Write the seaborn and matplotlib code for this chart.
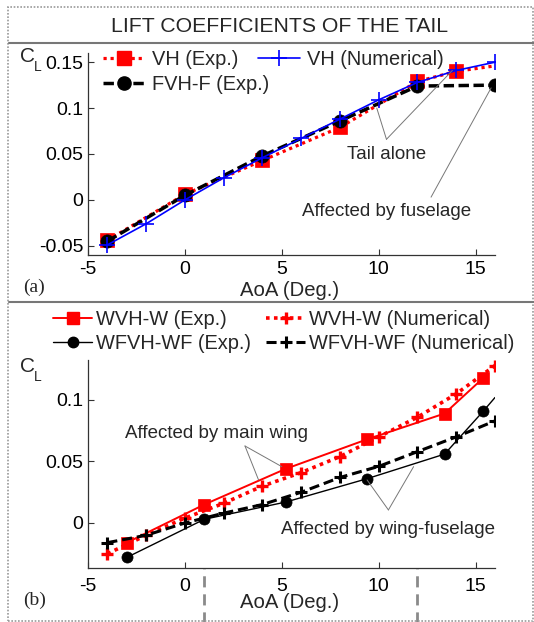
import matplotlib
matplotlib.use("Agg")
import matplotlib.pyplot as plt
import seaborn as sns
from matplotlib.lines import Line2D
from matplotlib.patches import Rectangle
from matplotlib import font_manager as fm

# ---------------- data: panel (a) ----------------
vh_exp_x = [-4, 0, 4, 8, 12, 14, 16]
vh_exp_y = [-0.044, 0.006, 0.043, 0.079, 0.129, 0.140, 0.146]
vh_num_x = [-4, -2, 0, 2, 4, 6, 8, 10, 12, 14, 16]
vh_num_y = [-0.049, -0.026, 0.0, 0.024, 0.046, 0.067, 0.088, 0.109, 0.128, 0.141, 0.150]
fvh_exp_x = [-4, 0, 4, 8, 12, 16]
fvh_exp_y = [-0.045, 0.005, 0.048, 0.086, 0.124, 0.125]

# ---------------- data: panel (b) ----------------
wvh_exp_x = [-3, 1, 5.2, 9.4, 13.4, 15.4]
wvh_exp_y = [-0.016, 0.015, 0.044, 0.068, 0.089, 0.118]
wvh_num_x = [-4, -2, 0, 2, 4, 6, 8, 10, 12, 14, 16]
wvh_num_y = [-0.025, -0.010, 0.004, 0.016, 0.030, 0.041, 0.054, 0.070, 0.086, 0.105, 0.128]
wfvh_exp_x = [-3, 1, 5.2, 9.4, 13.4, 15.4, 16]
wfvh_exp_y = [-0.028, 0.003, 0.017, 0.036, 0.056, 0.091, 0.102]
wfvh_num_x = [-4, -2, 0, 2, 4, 6, 8, 10, 12, 14, 16]
wfvh_num_y = [-0.016, -0.010, 0.0, 0.008, 0.015, 0.025, 0.037, 0.046, 0.058, 0.070, 0.083]

labels_a = ["VH (Exp.)", "FVH-F (Exp.)", "VH (Numerical)"]
labels_b = ["WVH-W (Exp.)", "WFVH-WF (Exp.)", "WVH-W (Numerical)", "WFVH-WF (Numerical)"]

x_ticks = [-5, 0, 5, 10, 15]
y_ticks_a = [-0.05, 0, 0.05, 0.1, 0.15]
y_ticklabels_a = ["-0.05", "0", "0.05", "0.1", "0.15"]
y_ticks_b = [0, 0.05, 0.1]
y_ticklabels_b = ["0", "0.05", "0.1"]

title = "LIFT COEFFICIENTS OF THE TAIL"
xlabel = "AoA (Deg.)"

# annotations: (text, text position, vertex, targets)
ann_a = [
    ("Tail alone", (10.4, 0.049), (10.4, 0.066), [(9.9, 0.100), (13.8, 0.141)]),
    ("Affected by fuselage", (10.4, -0.013), (12.7, 0.003), [(15.8, 0.122)]),
]
ann_b = [
    ("Affected by main wing", (1.65, 0.073), (3.1, 0.0626), [(5.0, 0.0458), (3.8, 0.035)]),
    ("Affected by wing-fuselage", (10.46, -0.005), (10.5, 0.0106), [(9.4, 0.035), (11.8, 0.0458)]),
]
vlines_b = [1, 12]

# ---------------- style ----------------
sns.set_style("ticks")
plt.rcParams["font.family"] = ["Liberation Sans", "DejaVu Sans"]
plt.rcParams["axes.unicode_minus"] = False
names = {f.name for f in fm.fontManager.ttflist}
if "Liberation Sans Narrow" in names:
    ann_font = dict(family=["Liberation Sans Narrow", "DejaVu Sans"], fontsize=16)
else:
    ann_font = dict(family=["Liberation Sans", "DejaVu Sans"], fontsize=13.5)

W, H = 534, 622
fig = plt.figure(figsize=(W / 100, H / 100), dpi=100)
fig.patch.set_facecolor("white")


def fx(px):
    return px / W


def fy(py):
    return 1 - py / H


ax1 = fig.add_axes([fx(88), fy(255), (495 - 88) / W, (255 - 53) / H])
ax2 = fig.add_axes([fx(88), fy(568), (495 - 88) / W, (568 - 360) / H])

# ---------------- panel (a) ----------------
sns.lineplot(x=vh_exp_x, y=vh_exp_y, ax=ax1, color="#ff0000", linestyle=(0, (1, 1.2)), lw=2.3,
             marker="s", markersize=9.5, markeredgecolor="#ff0000", markeredgewidth=0.5,
             markevery=list(range(6)), estimator=None, legend=False)
sns.lineplot(x=fvh_exp_x, y=fvh_exp_y, ax=ax1, color="black", linestyle=(0, (3, 1.3)), lw=2.5,
             marker="o", markersize=9.5, markeredgecolor="black", markeredgewidth=0.5,
             estimator=None, legend=False)
sns.lineplot(x=vh_num_x, y=vh_num_y, ax=ax1, color="#0000ff", linestyle="-", lw=1.2,
             marker="+", markersize=11, markeredgecolor="#0000ff", markeredgewidth=1.2,
             estimator=None, legend=False)

h_a = [
    Line2D([], [], color="#ff0000", linestyle=(0, (1, 1.2)), lw=2.3, marker="s", markersize=9.5),
    Line2D([], [], color="black", linestyle=(0, (3, 1.3)), lw=2.5, marker="o", markersize=9.5),
    Line2D([], [], color="#0000ff", linestyle="-", lw=1.2, marker="+", markersize=11, markeredgewidth=1.2),
]
leg_a = ax1.legend(h_a, labels_a, ncol=2, loc="upper left", bbox_to_anchor=(fx(103), fy(50)),
                   bbox_transform=fig.transFigure, frameon=False, fontsize=14.4,
                   handlelength=2.1, handletextpad=0.35, columnspacing=-0.55,
                   labelspacing=0.3, borderpad=0, borderaxespad=0)

ax1.set_xlim(-5, 16)
ax1.set_ylim(-0.06, 0.16)
ax1.set_xticks(x_ticks)
ax1.set_yticks(y_ticks_a)
ax1.set_yticklabels(y_ticklabels_a)
ax1.tick_params(axis="x", direction="in", length=4, width=0.8, labelsize=14, pad=4.5)
ax1.tick_params(axis="y", direction="in", length=4, width=0.8, labelsize=14, pad=3.5)

for text, tpos, vert, targets in ann_a:
    ax1.text(tpos[0], tpos[1], text, ha="center", va="center", **ann_font)
    for t in targets:
        ax1.annotate("", xy=t, xytext=vert,
                     arrowprops=dict(arrowstyle="-", color="#777777", lw=0.7,
                                     shrinkA=0, shrinkB=0))

# ---------------- panel (b) ----------------
sns.lineplot(x=wvh_exp_x, y=wvh_exp_y, ax=ax2, color="#ff0000", linestyle="-", lw=1.4,
             marker="s", markersize=8.5, markeredgecolor="#ff0000", markeredgewidth=0.5,
             estimator=None, legend=False)
sns.lineplot(x=wvh_num_x, y=wvh_num_y, ax=ax2, color="#ff0000", linestyle=(0, (1, 1.2)), lw=2.6,
             marker="+", markersize=9, markeredgecolor="#ff0000", markeredgewidth=2.4,
             estimator=None, legend=False)
sns.lineplot(x=wfvh_exp_x, y=wfvh_exp_y, ax=ax2, color="black", linestyle="-", lw=1.0,
             marker="o", markersize=8, markeredgecolor="black", markeredgewidth=0.5,
             markevery=list(range(6)), estimator=None, legend=False)
sns.lineplot(x=wfvh_num_x, y=wfvh_num_y, ax=ax2, color="black", linestyle=(0, (3.3, 1.6)), lw=2.2,
             marker="+", markersize=9, markeredgecolor="black", markeredgewidth=2.2,
             estimator=None, legend=False)

h_b = [
    Line2D([], [], color="#ff0000", linestyle="-", lw=1.4, marker="s", markersize=8),
    Line2D([], [], color="black", linestyle="-", lw=1.0, marker="o", markersize=7.5),
    Line2D([], [], color="#ff0000", linestyle=(0, (1, 1.2)), lw=2.6, marker="+", markersize=9, markeredgewidth=2.4),
    Line2D([], [], color="black", linestyle=(0, (3.3, 1.6)), lw=2.2, marker="+", markersize=9, markeredgewidth=2.2),
]
leg_b = ax2.legend(h_b, labels_b, ncol=2, loc="upper left", bbox_to_anchor=(fx(53), fy(310)),
                   bbox_transform=fig.transFigure, frameon=False, fontsize=14.4,
                   handlelength=1.95, handletextpad=0.2, columnspacing=0.75,
                   labelspacing=0.25, borderpad=0, borderaxespad=0)

ax2.set_xlim(-5, 16)
ax2.set_ylim(-0.0366, 0.1325)
ax2.set_xticks(x_ticks)
ax2.set_yticks(y_ticks_b)
ax2.set_yticklabels(y_ticklabels_b)
ax2.tick_params(axis="x", direction="in", length=4, width=0.8, labelsize=14, pad=7)
ax2.tick_params(axis="y", direction="in", length=4, width=0.8, labelsize=14, pad=3.5)

for text, tpos, vert, targets in ann_b:
    ax2.text(tpos[0], tpos[1], text, ha="center", va="center", **ann_font)
    for t in targets:
        ax2.annotate("", xy=t, xytext=vert,
                     arrowprops=dict(arrowstyle="-", color="#777777", lw=0.7,
                                     shrinkA=0, shrinkB=0))

for xv in vlines_b:
    ax2.axvline(xv, ymin=-0.27, ymax=0.0, clip_on=False, color="#8a8a8a", lw=2,
                linestyle=(0, (4, 2.5)))

for ax in (ax1, ax2):
    sns.despine(ax=ax)
    for s in ("left", "bottom"):
        ax.spines[s].set_color("#333333")
        ax.spines[s].set_linewidth(0.9)
    ax.tick_params(colors="#333333", labelcolor="black")
    ax.set_facecolor("white")

# ---------------- figure text ----------------
fig.text(fx(280), fy(26), title, ha="center", va="center", fontsize=15.3)
fig.text(fx(290), fy(290), xlabel, ha="center", va="center", fontsize=14.6)
fig.text(fx(290), fy(603), xlabel, ha="center", va="center", fontsize=14.6)
serif = ["Liberation Serif", "DejaVu Serif"]
fig.text(fx(34), fy(287), "(a)", ha="center", va="center", fontsize=14, family=serif)
fig.text(fx(35), fy(600), "(b)", ha="center", va="center", fontsize=14, family=serif)
for cy in (57, 367):
    fig.text(fx(20), fy(cy), "C", ha="left", va="center", fontsize=15)
    fig.text(fx(34), fy(cy + 10), "L", ha="left", va="center", fontsize=10)

# ---------------- frame lines ----------------
fig.add_artist(Rectangle((fx(8), fy(621)), fx(533) - fx(8), fy(7) - fy(621),
                         transform=fig.transFigure, fill=False, edgecolor="#9a9a9a",
                         lw=1.2, linestyle=(0, (1, 1))))
for yy in (43, 302):
    fig.add_artist(Line2D([fx(9), fx(534)], [fy(yy), fy(yy)], transform=fig.transFigure,
                          color="#777777", lw=1.5))

fig.savefig("out.png", dpi=100, facecolor="white")
